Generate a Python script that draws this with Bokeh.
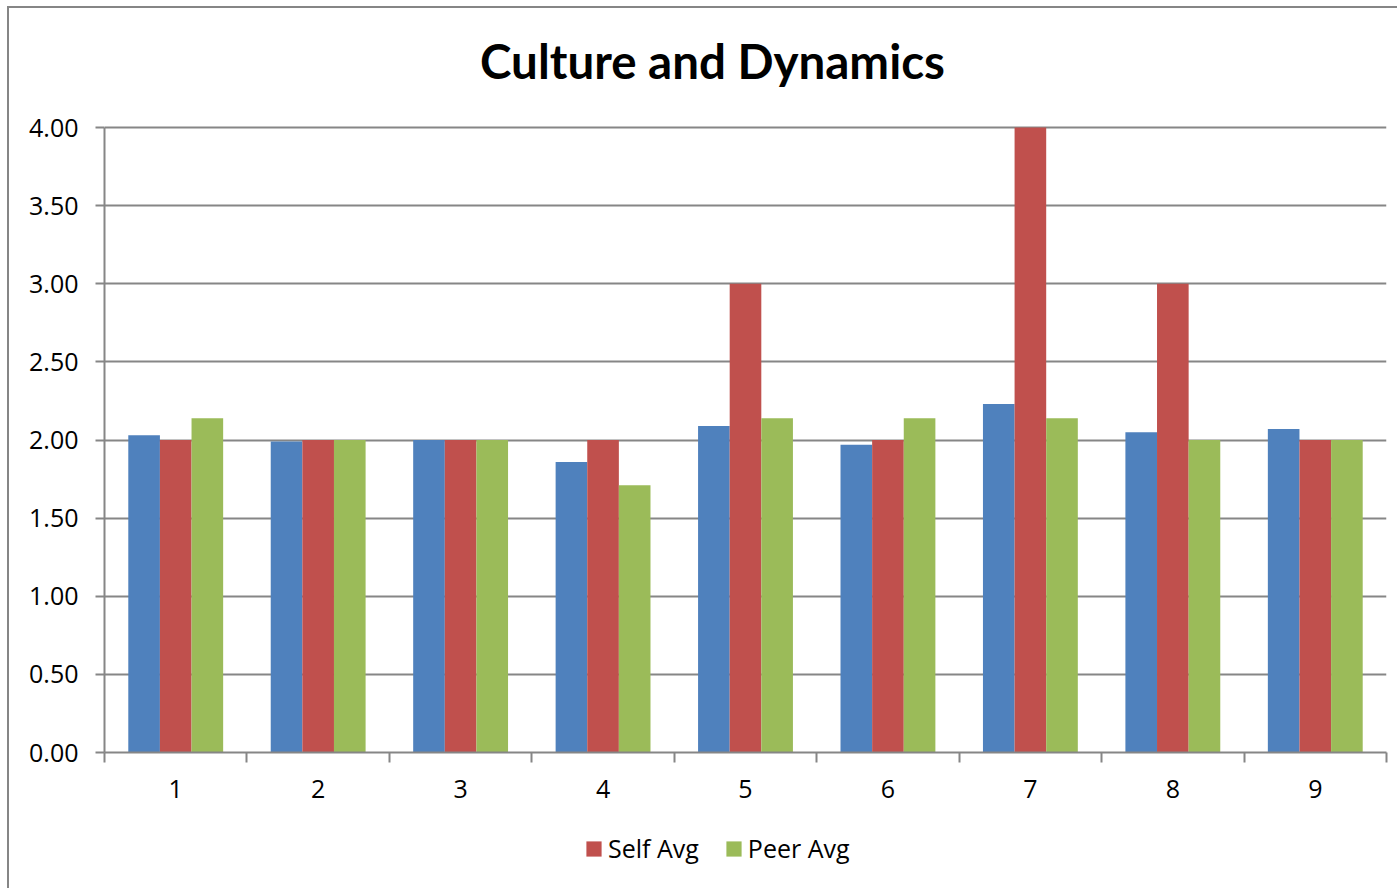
from bokeh.plotting import figure
from bokeh.layouts import column
from bokeh.models import (Range1d, FixedTicker, NumeralTickFormatter, Legend, LegendItem,
                          ColumnDataSource, Label)
from bokeh.embed import file_html
from bokeh.resources import INLINE

categories = ["1", "2", "3", "4", "5", "6", "7", "8", "9"]
overall_avg = [2.03, 1.99, 2.00, 1.86, 2.09, 1.97, 2.23, 2.05, 2.07]
self_avg = [2.00, 2.00, 2.00, 2.00, 3.00, 2.00, 4.00, 3.00, 2.00]
peer_avg = [2.14, 2.00, 2.00, 1.71, 2.14, 2.14, 2.14, 2.00, 2.00]
y_ticks = [0, 0.5, 1.0, 1.5, 2.0, 2.5, 3.0, 3.5, 4.0]
title_text = "Culture and Dynamics"

FONT = "Open Sans"
GRAY = "#868686"
BLUE, RED, GREEN = "#4F81BD", "#C0504D", "#9BBB59"

n = len(categories)
xs = list(range(1, n + 1))
bw = 0.222

W = 1390
H_TOTAL = 882
FRAME_BOTTOM, AXIS_PX, BOTTOM_BORDER = 744, 625, 70
H_MAIN = FRAME_BOTTOM + BOTTOM_BORDER
H_LEG = H_TOTAL - H_MAIN
y_max = max(y_ticks)
y_top = FRAME_BOTTOM / AXIS_PX * y_max

src = ColumnDataSource(dict(
    x=xs, overall=overall_avg, self=self_avg, peer=peer_avg,
    x_o=[x - bw for x in xs], x_s=xs, x_p=[x + bw for x in xs],
))

p = figure(width=W, height=H_MAIN, output_backend="svg", toolbar_location=None,
           x_range=Range1d(0.5, n + 0.5), y_range=Range1d(0, y_top),
           min_border_left=95, min_border_right=13, min_border_top=0,
           min_border_bottom=BOTTOM_BORDER)
p.styles = {"border-left": f"2px solid {GRAY}", "border-top": f"2px solid {GRAY}",
            "margin-left": "7px", "margin-top": "6px"}

p.vbar(x="x_o", top="overall", width=bw, source=src, fill_color=BLUE, line_color=None)
p.vbar(x="x_s", top="self", width=bw, source=src, fill_color=RED, line_color=None)
p.vbar(x="x_p", top="peer", width=bw, source=src, fill_color=GREEN, line_color=None)

title = Label(x=(n + 1) / 2, y=y_max, x_offset=-33, y_offset=67,
              text=title_text, text_align="center", text_baseline="alphabetic",
              text_font="Lato", text_font_style="bold", text_font_size="47.5px",
              text_color="black")
p.add_layout(title)

p.outline_line_color = None
p.background_fill_color = "white"
p.border_fill_color = "white"

# y axis
p.yaxis.ticker = FixedTicker(ticks=y_ticks)
p.yaxis.bounds = (0, y_max)
p.yaxis.formatter = NumeralTickFormatter(format="0.00")
p.yaxis.axis_line_color = GRAY
p.yaxis.axis_line_width = 2
p.yaxis.major_tick_line_color = GRAY
p.yaxis.major_tick_line_width = 2
p.yaxis.major_tick_in = 0
p.yaxis.major_tick_out = 9
p.yaxis.minor_tick_line_color = None
p.yaxis.major_label_text_font = FONT
p.yaxis.major_label_text_font_size = "25px"
p.yaxis.major_label_text_color = "black"
p.yaxis.major_label_standoff = 17

# x axis
p.xaxis.ticker = FixedTicker(ticks=xs, minor_ticks=[x - 0.5 for x in xs] + [n + 0.5])
p.xaxis.major_label_overrides = {x: c for x, c in zip(xs, categories)}
p.xaxis.axis_line_color = GRAY
p.xaxis.axis_line_width = 2
p.xaxis.major_tick_line_color = None
p.xaxis.major_tick_in = 0
p.xaxis.major_tick_out = 0
p.xaxis.minor_tick_line_color = GRAY
p.xaxis.minor_tick_line_width = 2
p.xaxis.minor_tick_in = 0
p.xaxis.minor_tick_out = 10
p.xaxis.major_label_text_font = FONT
p.xaxis.major_label_text_font_size = "25px"
p.xaxis.major_label_text_color = "black"
p.xaxis.major_label_standoff = 17

p.xgrid.grid_line_color = None
p.ygrid.grid_line_color = GRAY
p.ygrid.grid_line_width = 2

# legend strip below the chart (its renderers share the data but lie outside its view)
pl = figure(width=W, height=H_LEG, output_backend="svg", toolbar_location=None,
            x_range=Range1d(-1, 0), y_range=Range1d(-1, 0),
            x_axis_location=None, y_axis_location=None,
            min_border=0)
pl.styles = {"border-left": f"2px solid {GRAY}", "margin-left": "7px"}
pl.outline_line_color = None
pl.grid.grid_line_color = None
pl.background_fill_color = "white"
pl.border_fill_color = "white"
ls = pl.vbar(x="x_s", top="self", width=bw, source=src, fill_color=RED, line_color=None)
lp = pl.vbar(x="x_p", top="peer", width=bw, source=src, fill_color=GREEN, line_color=None)

legend = Legend(items=[LegendItem(label="Self Avg", renderers=[ls]),
                       LegendItem(label="Peer Avg", renderers=[lp])],
                orientation="horizontal", location=(480, 23),
                label_text_font=FONT, label_text_font_size="25px", label_text_color="black",
                glyph_width=19, glyph_height=19, spacing=25, padding=0, margin=0,
                label_standoff=5, border_line_color=None, background_fill_alpha=0)
pl.add_layout(legend, "center")

layout = column(p, pl, spacing=0)
open("out.html", "w").write(file_html(layout, INLINE))
